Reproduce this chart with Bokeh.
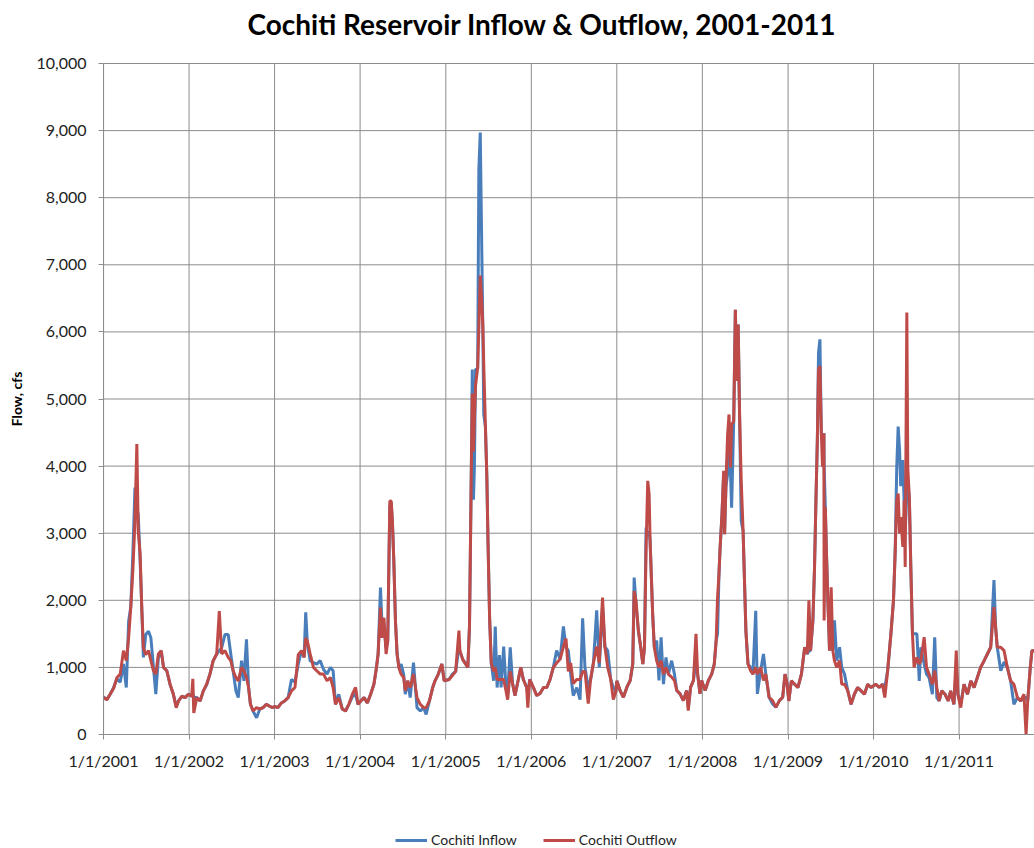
import pandas as pd
from bokeh.plotting import figure
from bokeh.models import (ColumnDataSource, FixedTicker, NumeralTickFormatter,
                          DatetimeTickFormatter, Legend, LegendItem, Range1d)
from bokeh.embed import file_html
from bokeh.resources import INLINE

# Sampled daily flows at Cochiti (cfs): date, inflow, outflow
dates = [
    # 2001
    "2001-01-01", "2001-01-15", "2001-01-29", "2001-02-13", "2001-02-27", "2001-03-13", "2001-03-27",
    "2001-04-08", "2001-04-18", "2001-04-27", "2001-05-06", "2001-05-15", "2001-05-23", "2001-05-29",
    "2001-06-06", "2001-06-13", "2001-06-20", "2001-06-30", "2001-07-12", "2001-07-22", "2001-08-02",
    "2001-08-12", "2001-08-23", "2001-09-04", "2001-09-14", "2001-09-28", "2001-10-12", "2001-10-26",
    "2001-11-07", "2001-11-17", "2001-12-01", "2001-12-15", "2001-12-29",
    # 2002
    "2002-01-12", "2002-01-17", "2002-01-21", "2002-02-03", "2002-02-17", "2002-03-03", "2002-03-17",
    "2002-03-31", "2002-04-14", "2002-04-29", "2002-05-10", "2002-05-20", "2002-06-03", "2002-06-17",
    "2002-06-28", "2002-07-08", "2002-07-20", "2002-07-30", "2002-08-13", "2002-08-23", "2002-09-03",
    "2002-09-12", "2002-09-20", "2002-10-01", "2002-10-16", "2002-10-30", "2002-11-13", "2002-11-27",
    "2002-12-11", "2002-12-25",
    # 2003
    "2003-01-01", "2003-01-15", "2003-01-30", "2003-02-13", "2003-02-28", "2003-03-14", "2003-03-29",
    "2003-04-12", "2003-04-26", "2003-05-07", "2003-05-14", "2003-05-21", "2003-06-02", "2003-06-16",
    "2003-06-30", "2003-07-15", "2003-07-29", "2003-08-13", "2003-08-27", "2003-09-08", "2003-09-18",
    "2003-10-02", "2003-10-17", "2003-10-31", "2003-11-14", "2003-11-29", "2003-12-13", "2003-12-23",
    # 2004
    "2004-01-04", "2004-01-18", "2004-02-01", "2004-02-15", "2004-02-29", "2004-03-11", "2004-03-18",
    "2004-03-28", "2004-04-03", "2004-04-12", "2004-04-21", "2004-04-28", "2004-05-07", "2004-05-13",
    "2004-05-18", "2004-05-24", "2004-05-31", "2004-06-07", "2004-06-15", "2004-06-24", "2004-07-05",
    "2004-07-12", "2004-07-22", "2004-08-02", "2004-08-16", "2004-08-31", "2004-09-14", "2004-09-28",
    "2004-10-09", "2004-10-23", "2004-11-06", "2004-11-16", "2004-11-30", "2004-12-15", "2004-12-25",
    # 2005
    "2005-01-15", "2005-01-29", "2005-02-12", "2005-02-26", "2005-03-02", "2005-03-14", "2005-03-25",
    "2005-04-05", "2005-04-12", "2005-04-16", "2005-04-20", "2005-04-24", "2005-04-29", "2005-05-03",
    "2005-05-08", "2005-05-17", "2005-05-22", "2005-05-28", "2005-06-02", "2005-06-08", "2005-06-12",
    "2005-06-19", "2005-06-25", "2005-06-30", "2005-07-07", "2005-07-14", "2005-07-24", "2005-07-31",
    "2005-08-08", "2005-08-18", "2005-08-25", "2005-09-05", "2005-09-15", "2005-09-22", "2005-10-03",
    "2005-10-13", "2005-10-23", "2005-11-03", "2005-11-17", "2005-11-28", "2005-12-12", "2005-12-17",
    "2005-12-25",
    # 2006
    "2006-01-10", "2006-01-24", "2006-02-07", "2006-02-22", "2006-03-08", "2006-03-22", "2006-04-05",
    "2006-04-19", "2006-05-04", "2006-05-18", "2006-05-29", "2006-06-08", "2006-06-18", "2006-06-29",
    "2006-07-14", "2006-07-28", "2006-08-08", "2006-08-18", "2006-09-01", "2006-09-11", "2006-09-23",
    "2006-10-07", "2006-10-18", "2006-11-01", "2006-11-11", "2006-11-23", "2006-12-06", "2006-12-17",
    "2006-12-28",
    # 2007
    "2007-01-01", "2007-01-15", "2007-01-29", "2007-02-13", "2007-02-27", "2007-03-10", "2007-03-16",
    "2007-03-24", "2007-04-03", "2007-04-13", "2007-04-22", "2007-04-29", "2007-05-06", "2007-05-13",
    "2007-05-19", "2007-05-23", "2007-05-29", "2007-06-03", "2007-06-10", "2007-06-20", "2007-06-30",
    "2007-07-09", "2007-07-19", "2007-07-30", "2007-08-09", "2007-08-23", "2007-09-04", "2007-09-14",
    "2007-09-28", "2007-10-12", "2007-10-26", "2007-11-02", "2007-11-12", "2007-11-24", "2007-12-05",
    "2007-12-12", "2007-12-22", "2007-12-29",
    # 2008
    "2008-01-13", "2008-01-27", "2008-02-10", "2008-02-21", "2008-02-29", "2008-03-06", "2008-03-12",
    "2008-03-17", "2008-03-25", "2008-04-01", "2008-04-05", "2008-04-11", "2008-04-18", "2008-04-24",
    "2008-04-30", "2008-05-05", "2008-05-14", "2008-05-21", "2008-05-27", "2008-06-02", "2008-06-08",
    "2008-06-15", "2008-06-23", "2008-06-29", "2008-07-05", "2008-07-14", "2008-07-25", "2008-08-04",
    "2008-08-16", "2008-08-23", "2008-09-06", "2008-09-18", "2008-09-28", "2008-10-12", "2008-10-27",
    "2008-11-10", "2008-11-25", "2008-12-09", "2008-12-19", "2008-12-28",
    # 2009
    "2009-01-04", "2009-01-15", "2009-01-29", "2009-02-12", "2009-02-27", "2009-03-13", "2009-03-24",
    "2009-03-31", "2009-04-07", "2009-04-17", "2009-04-24", "2009-04-30", "2009-05-06", "2009-05-11",
    "2009-05-17", "2009-05-23", "2009-05-28", "2009-06-03", "2009-06-04", "2009-06-09", "2009-06-14",
    "2009-06-20", "2009-06-27", "2009-07-04", "2009-07-11", "2009-07-18", "2009-07-28", "2009-08-09",
    "2009-08-18", "2009-08-30", "2009-09-13", "2009-09-27", "2009-10-11", "2009-10-25", "2009-11-09",
    "2009-11-23", "2009-12-07", "2009-12-21",
    # 2010
    "2010-01-11", "2010-01-25", "2010-02-08", "2010-02-18", "2010-03-02", "2010-03-16", "2010-03-27",
    "2010-04-03", "2010-04-10", "2010-04-16", "2010-04-22", "2010-04-27", "2010-05-06", "2010-05-12",
    "2010-05-16", "2010-05-23", "2010-05-27", "2010-06-03", "2010-06-09", "2010-06-16", "2010-06-23",
    "2010-07-05", "2010-07-15", "2010-07-22", "2010-08-05", "2010-08-15", "2010-08-26", "2010-09-09",
    "2010-09-19", "2010-09-28", "2010-10-08", "2010-10-19", "2010-11-02", "2010-11-16", "2010-11-26",
    "2010-12-10", "2010-12-20", "2010-12-27",
    # 2011
    "2011-01-08", "2011-01-22", "2011-02-06", "2011-02-20", "2011-03-06", "2011-03-20", "2011-04-03",
    "2011-04-18", "2011-05-02", "2011-05-16", "2011-05-30", "2011-06-06", "2011-06-13", "2011-06-28",
    "2011-07-12", "2011-07-26", "2011-08-09", "2011-08-23", "2011-09-07", "2011-09-21", "2011-10-05",
    "2011-10-14", "2011-10-21", "2011-11-01", "2011-11-08", "2011-11-19",
]

inflow = [
    # 2001
    560, 520, 600, 700, 830, 780, 1050, 700, 1690, 1900, 2690, 3680, 3380, 3280, 2590, 1890, 1150,
    1490, 1540, 1440, 1000, 600, 1150, 1250, 1000, 950, 740, 600, 420, 500, 570, 550, 600,
    # 2002
    570, 600, 560, 550, 500, 650, 740, 900, 1100, 1200, 1250, 1290, 1490, 1490, 1200, 950, 650, 550,
    1100, 800, 1420, 700, 450, 350, 250, 380, 400, 450, 420, 400,
    # 2003
    420, 400, 470, 500, 550, 820, 780, 1050, 1250, 1150, 1820, 1350, 1100, 1070, 1050, 1100, 970,
    900, 1000, 950, 450, 600, 380, 350, 450, 560, 600, 450,
    # 2004
    500, 550, 470, 600, 750, 1000, 1200, 2190, 1690, 1600, 1290, 1390, 3400, 3450, 3150, 2590, 1690,
    1200, 1000, 1050, 900, 600, 800, 550, 1070, 400, 350, 400, 300, 500, 700, 800, 900, 1050, 800,
    # 2005
    820, 900, 940, 1300, 1250, 1120, 1060, 1000, 1610, 2770, 3980, 5440, 3500, 3980, 5440, 5450,
    8420, 8970, 7630, 6050, 4770, 4590, 3860, 2890, 1730, 1065, 800, 1610, 700, 1185, 700, 1310,
    700, 600, 1300, 760, 580, 760, 1000, 820, 700, 600, 820,
    # 2006
    700, 580, 610, 700, 700, 820, 1000, 1250, 1125, 1610, 1300, 1250, 900, 580, 700, 520, 1730,
    1000, 700, 820, 1065, 1850, 1000, 1900, 1310, 1250, 820, 700, 640,
    # 2007
    800, 655, 555, 705, 805, 1050, 2340, 1940, 1545, 1300, 1050, 1300, 3085, 2960, 3035, 2890, 2290,
    1795, 1300, 1400, 805, 1450, 750, 1150, 900, 1100, 900, 655, 605, 505, 655, 400, 705, 805, 1100,
    900, 605, 805,
    # 2008
    655, 805, 900, 1050, 1400, 1500, 2390, 2790, 3285, 3880, 2985, 3700, 3880, 4620, 3930, 3380,
    4670, 6330, 5270, 6110, 4770, 3185, 3035, 2290, 1545, 1050, 1000, 900, 1845, 605, 950, 1200,
    900, 555, 455, 405, 505, 555, 900, 750,
    # 2009
    500, 800, 750, 700, 900, 1300, 1200, 1250, 1250, 1700, 2495, 3490, 4390, 5690, 5890, 4490, 4390,
    4490, 4000, 3390, 2695, 1995, 1250, 1800, 1250, 1700, 1100, 1300, 1000, 900, 650, 450, 600, 700,
    650, 600, 750, 700,
    # 2010
    750, 700, 750, 700, 950, 1500, 2000, 2695, 3990, 4590, 4240, 3700, 4090, 3400, 3000, 3600, 3800,
    3490, 2495, 1500, 1500, 1500, 800, 1300, 1050, 900, 850, 600, 1450, 550, 500, 650, 600, 500, 650,
    450, 1000, 600,
    # 2011
    450, 750, 600, 800, 700, 850, 1000, 1100, 1200, 1300, 2300, 1600, 1300, 950, 1080, 1000, 800,
    450, 550, 500, 550, 550, 500, 1000, 1250, 1250,
]

outflow = [
    # 2001
    550, 520, 600, 690, 850, 900, 1250, 1100, 1440, 1890, 2440, 3180, 4330, 3030, 2690, 1890, 1290,
    1190, 1250, 1100, 950, 900, 1200, 1250, 1000, 950, 750, 600, 400, 500, 570, 550, 600,
    # 2002
    570, 830, 320, 550, 500, 650, 750, 900, 1100, 1200, 1840, 1200, 1250, 1150, 1100, 950, 850, 800,
    1000, 950, 850, 700, 450, 350, 400, 380, 400, 450, 420, 400,
    # 2003
    420, 400, 470, 500, 550, 650, 700, 1190, 1250, 1150, 1440, 1390, 1200, 1000, 950, 900, 900, 800,
    850, 700, 450, 550, 380, 350, 450, 600, 700, 450,
    # 2004
    500, 550, 470, 600, 750, 1000, 1200, 1890, 1440, 1740, 1200, 1390, 3480, 3480, 3180, 2590, 1690,
    1200, 990, 900, 850, 650, 800, 700, 900, 550, 450, 400, 400, 500, 700, 800, 900, 1050, 800,
    # 2005
    820, 880, 940, 1550, 1250, 1120, 1060, 1000, 1610, 2770, 3980, 5080, 4220, 4710, 5200, 5470,
    6050, 6840, 6540, 6110, 5500, 4590, 3860, 2890, 1730, 1065, 940, 1000, 820, 820, 820, 820, 650,
    520, 940, 760, 580, 760, 1000, 820, 700, 400, 820,
    # 2006
    700, 580, 610, 700, 700, 820, 1000, 1065, 1125, 1310, 1430, 940, 1065, 760, 820, 820, 940, 940,
    460, 820, 1065, 1310, 1065, 2040, 1310, 1000, 820, 520, 640,
    # 2007
    800, 655, 555, 705, 805, 1050, 2140, 1990, 1545, 1300, 1050, 1300, 2790, 3780, 3580, 2890, 2290,
    1795, 1300, 1100, 1000, 1100, 900, 1000, 900, 855, 805, 655, 605, 505, 655, 355, 705, 805, 1500,
    900, 605, 805,
    # 2008
    655, 805, 900, 1050, 1400, 2040, 2390, 2790, 3285, 3930, 2985, 3780, 4475, 4770, 3980, 4620,
    4670, 6330, 5270, 6110, 4770, 3780, 3035, 2290, 1545, 1050, 950, 900, 1000, 900, 1000, 805, 900,
    555, 505, 405, 505, 555, 900, 750,
    # 2009
    500, 800, 750, 700, 900, 1300, 1200, 2000, 1250, 1700, 2495, 3490, 4390, 5440, 5490, 4490, 3990,
    4490, 1700, 3390, 2695, 1995, 1250, 2195, 1250, 1100, 1000, 1100, 750, 750, 650, 450, 600, 700,
    650, 600, 750, 700,
    # 2010
    750, 700, 750, 550, 950, 1500, 2000, 2695, 3490, 3590, 2995, 3240, 2795, 3490, 2495, 6290, 3990,
    3490, 2495, 1500, 1000, 1150, 1050, 1100, 1450, 1000, 900, 750, 950, 700, 500, 650, 600, 500, 650,
    450, 1250, 600,
    # 2011
    400, 750, 600, 800, 700, 850, 1000, 1100, 1200, 1300, 1900, 1600, 1300, 1300, 1250, 1000, 800,
    750, 550, 500, 600, 0, 500, 1000, 1250, 1250,
]

year_ticks = ["2001-01-01", "2002-01-01", "2003-01-01", "2004-01-01", "2005-01-01", "2006-01-01",
              "2007-01-01", "2008-01-01", "2009-01-01", "2010-01-01", "2011-01-01"]
year_labels = ["1/1/2001", "1/1/2002", "1/1/2003", "1/1/2004", "1/1/2005", "1/1/2006",
               "1/1/2007", "1/1/2008", "1/1/2009", "1/1/2010", "1/1/2011"]
flow_ticks = [0, 1000, 2000, 3000, 4000, 5000, 6000, 7000, 8000, 9000, 10000]

FONT = "Lato"
GRID = "#8c8c8c"
Y_TOP = 10000
Y_VIEW_TOP = 10343        # a little headroom so the top value label is not cut
Y_VIEW_BOTTOM = -1699     # room under the zero line for the date labels and the key
X_START = pd.Timestamp("2001-01-01")
X_END = pd.Timestamp("2011-11-19")
X_VIEW_START = pd.Timestamp("1999-10-19")   # room left of the value axis for its labels


def ms(ts):
    return pd.Timestamp(ts).value / 1e6


src = ColumnDataSource(dict(date=pd.to_datetime(dates), inflow=inflow, outflow=outflow))

p = figure(width=1034, height=848, output_backend="svg", toolbar_location=None,
           x_axis_type="datetime",
           x_range=Range1d(X_VIEW_START, X_END),
           y_range=Range1d(Y_VIEW_BOTTOM, Y_VIEW_TOP),
           min_border_left=0, min_border_right=0, min_border_top=40, min_border_bottom=0)
p.outline_line_color = None
p.background_fill_color = "white"
p.border_fill_color = "white"

p.title.text = "Cochiti Reservoir Inflow & Outflow, 2001-2011"
p.title.align = "left"
p.title.offset = 247
p.title.text_font = FONT
p.title.text_font_style = "bold"
p.title.text_font_size = "28px"
p.title.text_color = "#000000"
p.title.standoff = 0

# grid: vertical year lines from the zero line up, horizontal lines from 1/1/2001 on
tick_dates = pd.to_datetime(year_ticks)
p.segment(x0=tick_dates, y0=[0] * len(year_ticks), x1=tick_dates, y1=[Y_TOP] * len(year_ticks),
          line_color=GRID, line_width=1)
p.segment(x0=[X_START] * len(flow_ticks), y0=flow_ticks, x1=[X_END] * len(flow_ticks), y1=flow_ticks,
          line_color=GRID, line_width=1)
p.xgrid[0].visible = False
p.ygrid[0].visible = False

r_in = p.line("date", "inflow", source=src, line_color="#4A7EBB", line_width=3)
r_out = p.line("date", "outflow", source=src, line_color="#BE4B48", line_width=3)

# x axis: one tick per January 1st, drawn along the zero line
tick_ms = [ms(t) for t in year_ticks]
xa = p.xaxis[0]
xa.fixed_location = 0
xa.bounds = (ms(X_START), ms(X_END))
xa.ticker = FixedTicker(ticks=tick_ms)
xa.formatter = DatetimeTickFormatter(days="1/1/%Y", months="1/1/%Y", years="1/1/%Y")
xa.major_label_overrides = {t: lab for t, lab in zip(tick_ms, year_labels)}

# y axis: drawn along 1/1/2001
ya = p.yaxis[0]
ya.fixed_location = ms(X_START)
ya.bounds = (0, Y_TOP)
ya.ticker = FixedTicker(ticks=flow_ticks)
ya.formatter = NumeralTickFormatter(format="0,0")
ya.axis_label = "Flow, cfs"
ya.axis_label_text_font = FONT
ya.axis_label_text_font_style = "bold"
ya.axis_label_text_font_size = "14px"
ya.axis_label_text_color = "#000000"
ya.axis_label_standoff = 8

for ax in (xa, ya):
    ax.axis_line_color = GRID
    ax.major_tick_line_color = GRID
    ax.major_tick_out = 5
    ax.major_tick_in = 0
    ax.minor_tick_line_color = None
    ax.major_label_text_font = FONT
    ax.major_label_text_font_size = "16px"
    ax.major_label_text_color = "#222222"
xa.major_label_standoff = 12
ya.major_label_standoff = 12

legend = Legend(items=[LegendItem(label="Cochiti Inflow", renderers=[r_in]),
                       LegendItem(label="Cochiti Outflow", renderers=[r_out])],
                location=(395, 0), orientation="horizontal",
                glyph_width=32, glyph_height=14, label_height=14, label_standoff=4,
                spacing=26, padding=0, margin=0,
                label_text_font=FONT, label_text_font_size="14px", label_text_color="#222222",
                border_line_color=None, background_fill_alpha=0)
p.add_layout(legend)

open("out.html", "w").write(file_html(p, INLINE))
